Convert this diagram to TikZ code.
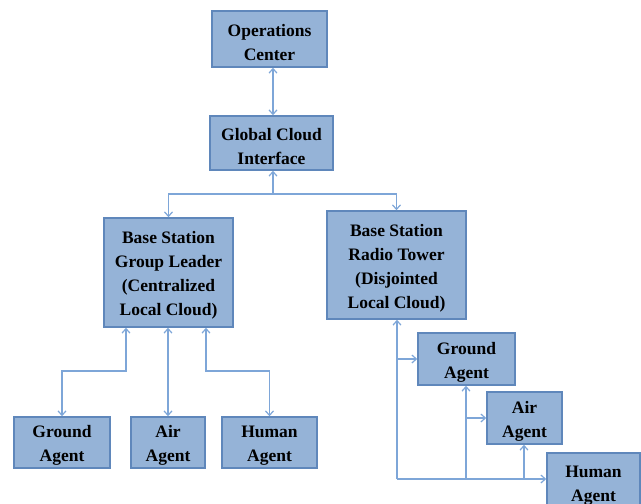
\documentclass[tikz,border=0pt]{standalone}
\usepackage{fontspec}
\setmainfont{Liberation Serif}
\usetikzlibrary{arrows.meta}
\definecolor{boxfill}{HTML}{95B3D7}
\definecolor{boxline}{HTML}{5F87BB}
\definecolor{conn}{HTML}{7EA6D8}
\newcommand\tup{\rule{0pt}{18.5pt}}
\tikzset{
  blk/.style={draw=boxline, line width=1.5pt, fill=boxfill, inner sep=0pt, align=center,
    font=\fontsize{17.5}{24}\selectfont\bfseries},
  ln/.style={draw=conn, line width=1.2pt},
  tip/.style={ln, -{Straight Barb[length=4.5pt,width=8pt]}},
  tip2/.style={ln, {Straight Barb[length=4.5pt,width=8pt]}-{Straight Barb[length=4.5pt,width=8pt]}}
}
\begin{document}
\begin{tikzpicture}[x=1pt,y=-1pt]
\useasboundingbox (0,0) rectangle (641,504);
\node[blk, minimum width=115pt, minimum height=56pt] (oc) at (269.5,39) {\tup Operations\\Center};
\node[blk, minimum width=123pt, minimum height=54pt] (gci) at (271.5,143) {\tup Global Cloud\\Interface};
\node[blk, minimum width=129pt, minimum height=109pt] (bsgl) at (168.5,272.5) {\tup Base Station\\Group Leader\\(Centralized\\Local Cloud)};
\node[blk, minimum width=139pt, minimum height=108pt] (bsrt) at (396.5,265) {\tup Base Station\\Radio Tower\\(Disjointed\\Local Cloud)};
\node[blk, minimum width=96pt, minimum height=51pt] (ga) at (62,442.5) {\tup Ground\\Agent};
\node[blk, minimum width=74pt, minimum height=51pt] (aa) at (168,442.5) {\tup Air\\Agent};
\node[blk, minimum width=95pt, minimum height=51pt] (ha) at (269.5,442.5) {\tup Human\\Agent};
\node[blk, minimum width=97pt, minimum height=52pt] (rga) at (466.5,359) {\tup Ground\\Agent};
\node[blk, minimum width=75pt, minimum height=52pt] (raa) at (524.5,418) {\tup Air\\Agent};
\node[blk, minimum width=93pt, minimum height=58pt] (rha) at (593.5,482) {\tup Human\\Agent};
% top connectors
\coordinate (j1) at (273,194);
\draw[tip2] (oc.south -| j1) -- (gci.north -| j1);
\draw[tip] (j1) -- (gci.south -| j1);
\draw[tip] (j1) -| (bsgl.north);
\draw[tip] (j1) -| (bsrt.north);
% left agents
\coordinate (g1) at (126,371);
\coordinate (g2) at (62,371);
\draw[tip2] (bsgl.south -| g1) -- (g1) -- (g2) -- (ga.north);
\draw[tip2] (bsgl.south -| aa) -- (aa.north);
\coordinate (h1) at (206,371);
\coordinate (h2) at (269.5,371);
\draw[tip2] (bsgl.south -| h1) -- (h1) -- (h2) -- (ha.north);
% right agents
\coordinate (r0) at (397,479);
\coordinate (r1) at (397,359);
\coordinate (r2) at (466,479);
\coordinate (r3) at (466,418);
\coordinate (r4) at (524,479);
\draw[tip] (r0) -- (bsrt.south -| r0);
\draw[tip] (r0) -- (rha.west |- r0);
\draw[tip] (r1) -- (rga.west |- r1);
\draw[tip] (r2) -- (rga.south -| r2);
\draw[tip] (r3) -- (raa.west |- r3);
\draw[tip] (r4) -- (raa.south -| r4);
\end{tikzpicture}
\end{document}
